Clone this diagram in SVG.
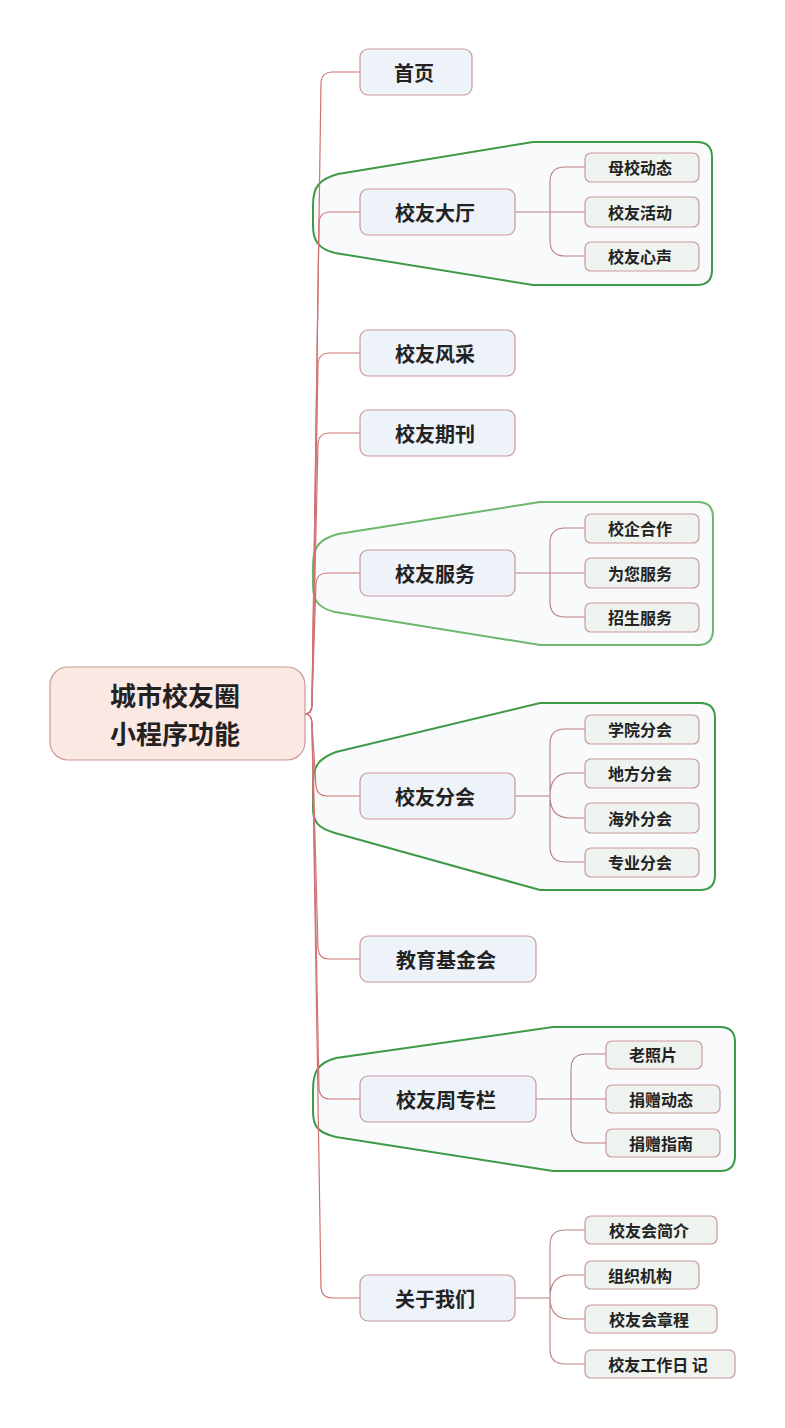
<svg xmlns="http://www.w3.org/2000/svg" width="785" height="1428" viewBox="0 0 785 1428">
<style>
text{font-family:"Noto Sans CJK SC","Noto Sans",sans-serif;font-weight:bold;fill:#222;text-anchor:middle;dominant-baseline:central}
.root rect{fill:#fce8e3;stroke:#c89a94;stroke-width:1.2}
.root text{font-size:26px}
.main rect{fill:#eef2f9;stroke:#c99a9a;stroke-width:1.2}
.main text{font-size:20px}
.sub rect{fill:#eef3ef;stroke:#c99a9a;stroke-width:1.2}
.sub text{font-size:16px}
.bnd{fill:#f8fafc;stroke:#3f9a47;stroke-width:2}
.c1{fill:none;stroke:#d27272;stroke-width:1.2}
.c2{fill:none;stroke:#b98080;stroke-width:1.1}
</style>
<rect width="785" height="1428" fill="#ffffff"/>
<g id="boundaries">
<path class="bnd" d="M313 205 C313 186 320 179 338 174 L533 142 L697 142 Q712 142 712 157 L712 270 Q712 285 697 285 L533 285 L335 253 C318 249 313 240 313 226 Z"/>
<path class="bnd" style="stroke:#6cb86c" d="M313 565 C313 546 320 539 338 534 L540 502 L698 502 Q713 502 713 517 L713 630 Q713 645 698 645 L540 645 L335 612 C318 608 313 600 313 586 Z"/>
<path class="bnd" d="M313 785 C313 766 318 759 336 752 L540 703 L700 703 Q715 703 715 718 L715 875 Q715 890 700 890 L540 890 L335 833 C318 828 313 822 313 808 Z"/>
<path class="bnd" d="M313 1090 C313 1071 318 1063 336 1058 L553 1027 L720 1027 Q735 1027 735 1042 L735 1156 Q735 1171 720 1171 L553 1171 L336 1137 C318 1133 313 1126 313 1112 Z"/>
</g>
<g id="connectors">
<path class="c1" d="M305 714 Q312 714 312 704 L321 82 Q322 72 332 72 L360 72"/>
<path class="c1" d="M305 714 Q312 714 312 704 L319 222 Q320 212 330 212 L360 212"/>
<path class="c1" d="M305 714 Q312 714 312 704 L318 363 Q319 353 329 353 L360 353"/>
<path class="c1" d="M305 714 Q312 714 312 704 L318 443 Q319 433 329 433 L360 433"/>
<path class="c1" d="M305 714 Q312 714 312 704 L316 583 Q317 573 327 573 L360 573"/>
<path class="c1" d="M305 714 Q312 714 312 724 L316 786 Q317 796 327 796 L360 796"/>
<path class="c1" d="M305 714 Q312 714 312 724 L318 949 Q319 959 329 959 L360 959"/>
<path class="c1" d="M305 714 Q312 714 312 724 L319 1089 Q320 1099 330 1099 L360 1099"/>
<path class="c1" d="M305 714 Q312 714 312 724 L321 1288 Q322 1298 332 1298 L360 1298"/>
<path class="c2" d="M515 212 H585 M550 212 V182 Q550 167 565 167 H585 M550 212 V241 Q550 256 565 256 H585"/>
<path class="c2" d="M515 573 H585 M550 573 V543 Q550 528 565 528 H585 M550 573 V602 Q550 617 565 617 H585"/>
<path class="c2" d="M515 796 H550 M550 796 V744 Q550 729 565 729 H585 M550 796 Q550 773 570 773 H585 M550 796 Q550 818 570 818 H585 M550 796 V847 Q550 862 565 862 H585"/>
<path class="c2" d="M536 1099 H606 M571 1099 V1069 Q571 1054 586 1054 H606 M571 1099 V1128 Q571 1143 586 1143 H606"/>
<path class="c2" d="M515 1298 H550 M550 1298 V1245 Q550 1230 565 1230 H585 M550 1298 Q550 1275 570 1275 H585 M550 1298 Q550 1319 570 1319 H585 M550 1298 V1349 Q550 1364 565 1364 H585"/>
</g>
<g id="root" class="root"><rect x="50" y="667" width="255" height="93" rx="18"/><text x="175" y="694">城市校友圈</text><text x="175" y="732">小程序功能</text></g>
<g id="n-shouye" class="main"><rect x="360" y="49" width="112" height="46" rx="8"/><text x="414" y="72">首页</text></g>
<g id="n-dating" class="main"><rect x="360" y="189" width="155" height="46" rx="8"/><text x="435" y="212">校友大厅</text></g>
<g id="n-fengcai" class="main"><rect x="360" y="330" width="155" height="46" rx="8"/><text x="435" y="353">校友风采</text></g>
<g id="n-qikan" class="main"><rect x="360" y="410" width="155" height="46" rx="8"/><text x="435" y="433">校友期刊</text></g>
<g id="n-fuwu" class="main"><rect x="360" y="550" width="155" height="46" rx="8"/><text x="435" y="573">校友服务</text></g>
<g id="n-fenhui" class="main"><rect x="360" y="773" width="155" height="46" rx="8"/><text x="435" y="796">校友分会</text></g>
<g id="n-jijinhui" class="main"><rect x="360" y="936" width="176" height="46" rx="8"/><text x="446" y="959">教育基金会</text></g>
<g id="n-zhuanlan" class="main"><rect x="360" y="1076" width="176" height="46" rx="8"/><text x="446" y="1099">校友周专栏</text></g>
<g id="n-guanyu" class="main"><rect x="360" y="1275" width="155" height="46" rx="8"/><text x="435" y="1298">关于我们</text></g>
<g id="s-muxiao" class="sub"><rect x="585" y="153" width="114" height="29" rx="6"/><text x="640" y="167">母校动态</text></g>
<g id="s-huodong" class="sub"><rect x="585" y="197" width="114" height="30" rx="6"/><text x="640" y="212">校友活动</text></g>
<g id="s-xinsheng" class="sub"><rect x="585" y="242" width="114" height="29" rx="6"/><text x="640" y="256">校友心声</text></g>
<g id="s-xiaoqi" class="sub"><rect x="585" y="514" width="114" height="29" rx="6"/><text x="640" y="528">校企合作</text></g>
<g id="s-weinin" class="sub"><rect x="585" y="558" width="114" height="30" rx="6"/><text x="640" y="573">为您服务</text></g>
<g id="s-zhaosheng" class="sub"><rect x="585" y="603" width="114" height="29" rx="6"/><text x="640" y="617">招生服务</text></g>
<g id="s-xueyuan" class="sub"><rect x="585" y="715" width="114" height="29" rx="6"/><text x="640" y="729">学院分会</text></g>
<g id="s-difang" class="sub"><rect x="585" y="759" width="114" height="29" rx="6"/><text x="640" y="773">地方分会</text></g>
<g id="s-haiwai" class="sub"><rect x="585" y="803" width="114" height="30" rx="6"/><text x="640" y="818">海外分会</text></g>
<g id="s-zhuanye" class="sub"><rect x="585" y="848" width="114" height="29" rx="6"/><text x="640" y="862">专业分会</text></g>
<g id="s-laozhaopian" class="sub"><rect x="606" y="1041" width="96" height="28" rx="6"/><text x="653" y="1054">老照片</text></g>
<g id="s-juanzeng" class="sub"><rect x="606" y="1085" width="114" height="28" rx="6"/><text x="661" y="1099">捐赠动态</text></g>
<g id="s-zhinan" class="sub"><rect x="606" y="1129" width="114" height="28" rx="6"/><text x="661" y="1143">捐赠指南</text></g>
<g id="s-jianjie" class="sub"><rect x="585" y="1216" width="132" height="28" rx="6"/><text x="649" y="1230">校友会简介</text></g>
<g id="s-jigou" class="sub"><rect x="585" y="1261" width="114" height="28" rx="6"/><text x="640" y="1275">组织机构</text></g>
<g id="s-zhangcheng" class="sub"><rect x="585" y="1305" width="132" height="28" rx="6"/><text x="649" y="1319">校友会章程</text></g>
<g id="s-riji" class="sub"><rect x="585" y="1350" width="150" height="28" rx="6"/><text x="658" y="1364">校友工作日 记</text></g>
</svg>
